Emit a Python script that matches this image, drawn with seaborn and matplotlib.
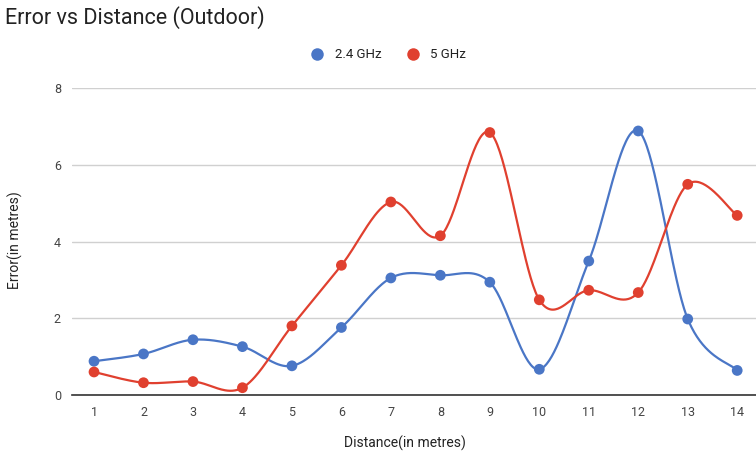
import numpy as np
import pandas as pd
import matplotlib
matplotlib.use("Agg")
import matplotlib.pyplot as plt
from matplotlib.lines import Line2D
import seaborn as sns

# Measured positioning error at each distance
distance = [1, 2, 3, 4, 5, 6, 7, 8, 9, 10, 11, 12, 13, 14]
error_24ghz = [0.88, 1.07, 1.44, 1.26, 0.76, 1.76, 3.05, 3.12, 2.94, 0.67, 3.49, 6.88, 1.98, 0.64]
error_5ghz = [0.60, 0.32, 0.35, 0.19, 1.80, 3.38, 5.03, 4.15, 6.84, 2.48, 2.73, 2.67, 5.49, 4.68]
series_names = ["2.4 GHz", "5 GHz"]
y_ticks = [0, 2, 4, 6, 8]

BLUE = "#4a76c6"
RED = "#e0402f"
palette = {series_names[0]: BLUE, series_names[1]: RED}


def smooth_curve(xs, ys, steps=40):
    """Catmull-Rom spline through the points, used for the curved lines."""
    x = np.asarray(xs, float)
    y = np.asarray(ys, float)
    px = np.concatenate([[x[0]], x, [x[-1]]])
    py = np.concatenate([[y[0]], y, [y[-1]]])
    out_x, out_y = [], []
    t = np.linspace(0, 1, steps, endpoint=False)
    for i in range(1, len(px) - 2):
        x0, x1, x2, x3 = px[i - 1:i + 3]
        y0, y1, y2, y3 = py[i - 1:i + 3]
        mx1, mx2 = (x2 - x0) / 2, (x3 - x1) / 2
        my1, my2 = (y2 - y0) / 2, (y3 - y1) / 2
        h00 = 2 * t**3 - 3 * t**2 + 1
        h10 = t**3 - 2 * t**2 + t
        h01 = -2 * t**3 + 3 * t**2
        h11 = t**3 - t**2
        out_x.append(h00 * x1 + h10 * mx1 + h01 * x2 + h11 * mx2)
        out_y.append(h00 * y1 + h10 * my1 + h01 * y2 + h11 * my2)
    out_x.append([x[-1]])
    out_y.append([y[-1]])
    return np.concatenate(out_x), np.concatenate(out_y)


points = pd.DataFrame({
    "distance": distance * 2,
    "error": error_24ghz + error_5ghz,
    "band": [series_names[0]] * len(distance) + [series_names[1]] * len(distance),
})

curves = []
for name, vals in zip(series_names, [error_24ghz, error_5ghz]):
    cx, cy = smooth_curve(distance, vals)
    curves.append(pd.DataFrame({"distance": cx, "error": cy, "band": name}))
curves = pd.concat(curves, ignore_index=True)

sns.set_theme(style="white")
plt.rcParams["font.family"] = ["Roboto", "DejaVu Sans"]

fig = plt.figure(figsize=(7.56, 4.57), dpi=100)
ax = fig.add_axes([72 / 756, 1 - 395 / 457, (756 - 72) / 756, (395 - 88) / 457])

sns.lineplot(data=curves, x="distance", y="error", hue="band", palette=palette,
             sort=False, estimator=None, linewidth=1.6, legend=False, ax=ax, zorder=3)
sns.scatterplot(data=points, x="distance", y="error", hue="band", palette=palette,
                s=60, edgecolor="none", legend=False, ax=ax, zorder=4)

ax.set_xlim(0.555, 14.38)
ax.set_ylim(0, 8)
ax.set_xticks(distance)
ax.set_xticklabels([str(d) for d in distance])
ax.set_yticks(y_ticks)
ax.set_yticklabels([str(v) for v in y_ticks])
ax.tick_params(axis="both", length=0, labelsize=9, colors="#444444")
ax.tick_params(axis="x", pad=8)
ax.tick_params(axis="y", pad=8)
ax.grid(axis="y", color="#d0d0d0", linewidth=1)
ax.set_axisbelow(True)
for side in ["top", "right", "left"]:
    ax.spines[side].set_visible(False)
ax.spines["bottom"].set_color("#333333")
ax.spines["bottom"].set_linewidth(1.2)
ax.spines["bottom"].set_zorder(2)

ax.set_xlabel("")
ax.set_ylabel("")
fig.text(405 / 756, 1 - 443 / 457, "Distance(in metres)", ha="center", va="center",
         fontsize=10, color="#222222")
fig.text(15 / 756, 1 - 240 / 457, "Error(in metres)", ha="center", va="center",
         rotation=90, fontsize=10, color="#222222")
fig.text(5 / 756, 1 - 18 / 457, "Error vs Distance (Outdoor)", ha="left", va="center",
         fontsize=15.5, color="#222222")

handles = [Line2D([0], [0], marker="o", linestyle="none", markersize=9,
                  markerfacecolor=palette[n], markeredgecolor="none") for n in series_names]
fig.legend(handles, series_names, loc="center", bbox_to_anchor=(385 / 756, 1 - 55 / 457),
           ncol=2, frameon=False, fontsize=9.5, handletextpad=0.3, columnspacing=1.4,
           labelcolor="#222222")

fig.savefig("out.png", dpi=100)
